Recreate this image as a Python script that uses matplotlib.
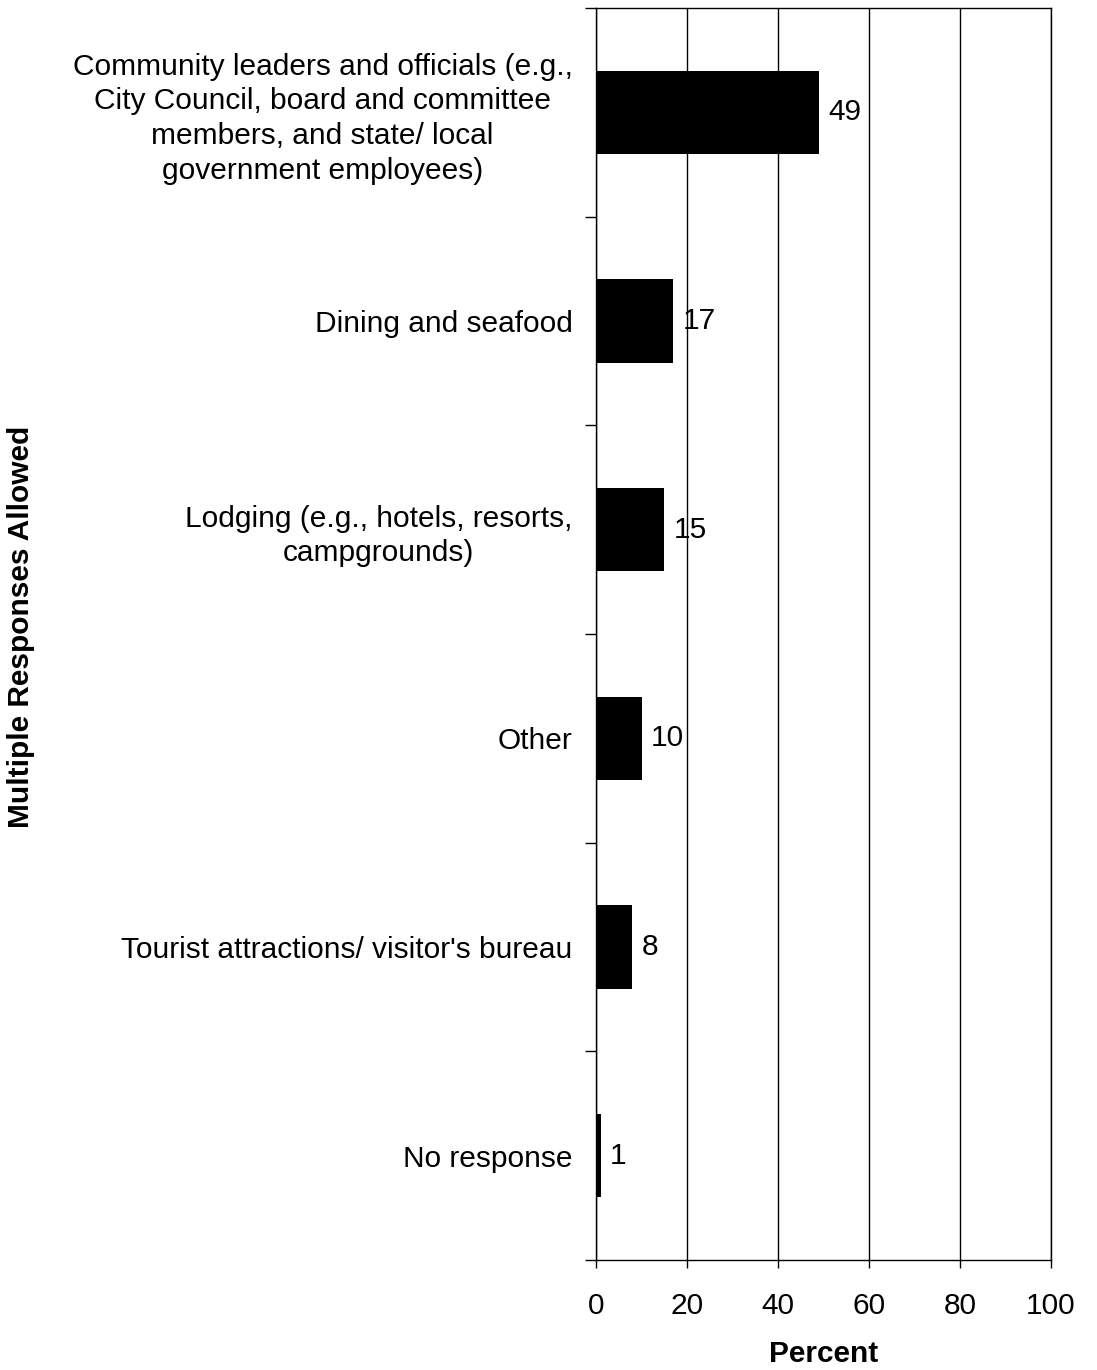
import matplotlib
matplotlib.use("Agg")
import matplotlib.pyplot as plt
import numpy as np

categories = [
    "Community leaders and officials (e.g.,\nCity Council, board and committee\nmembers, and state/ local\ngovernment employees)",
    "Dining and seafood",
    "Lodging (e.g., hotels, resorts,\ncampgrounds)",
    "Other",
    "Tourist attractions/ visitor's bureau",
    "No response",
]
values = [49, 17, 15, 10, 8, 1]
x_ticks = [0, 20, 40, 60, 80, 100]
x_label = "Percent"
y_label = "Multiple Responses Allowed"

plt.rcParams['font.family'] = ['Liberation Sans', 'DejaVu Sans']
FS = 21.5

W, H = 1097, 1370
fig = plt.figure(figsize=(W / 100, H / 100), dpi=100)
left, right, top, bottom = 596, 1051, 8, 1260
ax = fig.add_axes([left / W, 1 - bottom / H, (right - left) / W, (bottom - top) / H])

y = np.arange(len(categories))
ax.barh(y, values, height=0.4, color='black', zorder=3)
for yi, v in zip(y, values):
    ax.annotate(str(v), (v, yi), xytext=(6.5, 0), textcoords='offset points',
                ha='left', va='center', fontsize=FS, zorder=4)

ax.set_xlim(0, 100)
ax.set_ylim(len(categories) - 0.5, -0.5)
ax.set_xticks(x_ticks)
ax.set_xticklabels([str(t) for t in x_ticks], fontsize=FS)
ax.xaxis.grid(True, color='black', linewidth=1.0, zorder=1)

ax.set_yticks(np.arange(len(categories) + 1) - 0.5)
ax.set_yticklabels([])
ax.set_yticks(y, minor=True)
ax.set_yticklabels(categories, minor=True, fontsize=FS, ha='right',
                   multialignment='center', linespacing=1.3)
ax.tick_params(axis='y', which='minor', length=0, pad=17)
ax.tick_params(axis='y', which='major', length=8, width=1.0, direction='out')
ax.tick_params(axis='x', length=6, width=1.0, direction='out', pad=17)

for s in ax.spines.values():
    s.set_linewidth(1.0)
    s.set_color('black')

ax.set_xlabel(x_label, fontsize=FS, fontweight='bold')
ax.xaxis.set_label_coords(0.5, (bottom - 1354) / (bottom - top))
ax.xaxis.label.set_va('center')
ax.set_ylabel(y_label, fontsize=FS, fontweight='bold')
ax.yaxis.set_label_coords((21 - left) / (right - left), (bottom - 627) / (bottom - top))
ax.yaxis.label.set_va('center')

fig.savefig("out.png", dpi=100)
